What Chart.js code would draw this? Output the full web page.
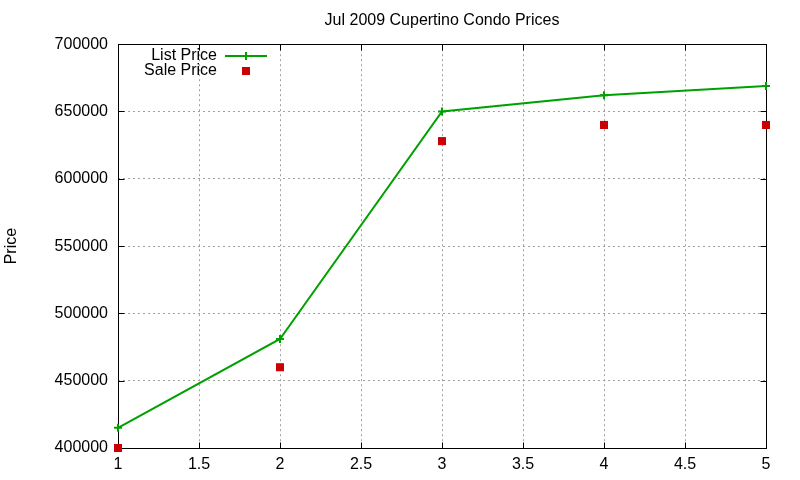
<!DOCTYPE html>
<html lang="en">
<head>
<meta charset="UTF-8">
<title>Jul 2009 Cupertino Condo Prices</title>
<script src="https://cdn.jsdelivr.net/npm/chart.js"></script>
<style>
  html, body {margin:0; padding:0; background:#fff;}
  #chart {display:block;}
</style>
</head>
<body>
<canvas id="chart" width="800" height="480"></canvas>
<script>
// values
const months = [1, 2, 3, 4, 5];
const listPrice = [415000, 481000, 650000, 662000, 669000];
const salePrice = [400000, 460000, 628000, 640000, 640000];
const xTicks = [1, 1.5, 2, 2.5, 3, 3.5, 4, 4.5, 5];
const yTicks = [400000, 450000, 500000, 550000, 600000, 650000, 700000];

const FONT = "'Liberation Sans', Arial, sans-serif";
const GREEN = '#00a000';
const RED = '#cc0000';

// gnuplot style frame: full border, inward ticks, legend inside the plot
const framePlugin = {
    id: 'frame',
    beforeDatasetsDraw(chart) {
        const {ctx, chartArea: a, scales: {x, y}} = chart;
        const L = Math.round(a.left) + 0.5, R = Math.round(a.right) + 0.5;
        const T = Math.round(a.top) + 0.5, B = Math.round(a.bottom) + 0.5;
        const len = 6;
        ctx.save();
        ctx.strokeStyle = '#000';
        ctx.lineWidth = 1;
        ctx.beginPath();
        xTicks.forEach(v => {
            const px = Math.round(x.getPixelForValue(v)) + 0.5;
            ctx.moveTo(px, B); ctx.lineTo(px, B - len);
            ctx.moveTo(px, T); ctx.lineTo(px, T + len);
        });
        yTicks.forEach(v => {
            const py = Math.round(y.getPixelForValue(v)) + 0.5;
            ctx.moveTo(L, py); ctx.lineTo(L + len, py);
            ctx.moveTo(R, py); ctx.lineTo(R - len, py);
        });
        ctx.stroke();
        ctx.strokeRect(L, T, R - L, B - T);
        ctx.restore();
    },
    afterDraw(chart) {
        const {ctx} = chart;
        const sets = chart.data.datasets;
        ctx.save();
        ctx.font = '16px ' + FONT;
        ctx.fillStyle = '#000';
        ctx.textAlign = 'right';
        ctx.textBaseline = 'middle';
        // List Price entry
        ctx.fillText(sets[0].label, 217, 56);
        ctx.strokeStyle = GREEN;
        ctx.lineWidth = 2;
        ctx.beginPath();
        ctx.moveTo(225, 56); ctx.lineTo(267, 56);
        ctx.moveTo(246, 52); ctx.lineTo(246, 60);
        ctx.stroke();
        // Sale Price entry
        ctx.fillText(sets[1].label, 217, 71);
        ctx.fillStyle = RED;
        ctx.fillRect(242, 67, 8, 8);
        ctx.restore();
    }
};

new Chart(document.getElementById('chart'), {
    type: 'line',
    data: {
        datasets: [
            {
                label: 'List Price',
                data: months.map((m, i) => ({x: m, y: listPrice[i]})),
                borderColor: GREEN,
                backgroundColor: GREEN,
                borderWidth: 2,
                pointStyle: 'cross',
                pointRadius: 4,
                pointBorderWidth: 2,
                tension: 0,
                clip: false
            },
            {
                label: 'Sale Price',
                data: months.map((m, i) => ({x: m, y: salePrice[i]})),
                showLine: false,
                borderColor: RED,
                backgroundColor: RED,
                pointStyle: 'rect',
                pointRadius: 5.7,
                pointBorderWidth: 0,
                clip: false
            }
        ]
    },
    options: {
        responsive: false,
        animation: false,
        layout: {padding: {left: 0, right: 34, top: 0, bottom: 0}},
        plugins: {
            legend: {display: false},
            tooltip: {enabled: false},
            title: {
                display: true,
                text: 'Jul 2009 Cupertino Condo Prices',
                fullSize: false,
                color: '#000',
                font: {family: FONT, size: 16, weight: 'normal'},
                padding: {top: 11, bottom: 14}
            }
        },
        scales: {
            x: {
                type: 'linear',
                min: 1,
                max: 5,
                afterBuildTicks: s => { s.ticks = xTicks.map(v => ({value: v})); },
                afterFit: s => { s.height = 32; },
                grid: {color: '#a0a0a0', lineWidth: 1, drawTicks: false},
                border: {display: false, dash: [2, 3]},
                ticks: {color: '#000', padding: 7, font: {family: FONT, size: 16}, callback: v => String(v)}
            },
            y: {
                min: 400000,
                max: 700000,
                afterBuildTicks: s => { s.ticks = yTicks.map(v => ({value: v})); },
                afterFit: s => { s.width = 118; },
                grid: {color: '#a0a0a0', lineWidth: 1, drawTicks: false},
                border: {display: false, dash: [2, 3]},
                ticks: {color: '#000', padding: 10, font: {family: FONT, size: 16}, callback: v => String(v)},
                title: {
                    display: true,
                    text: 'Price',
                    color: '#000',
                    font: {family: FONT, size: 16},
                    padding: {top: 2, bottom: 0}
                }
            }
        }
    },
    plugins: [framePlugin]
});
</script>
</body>
</html>
